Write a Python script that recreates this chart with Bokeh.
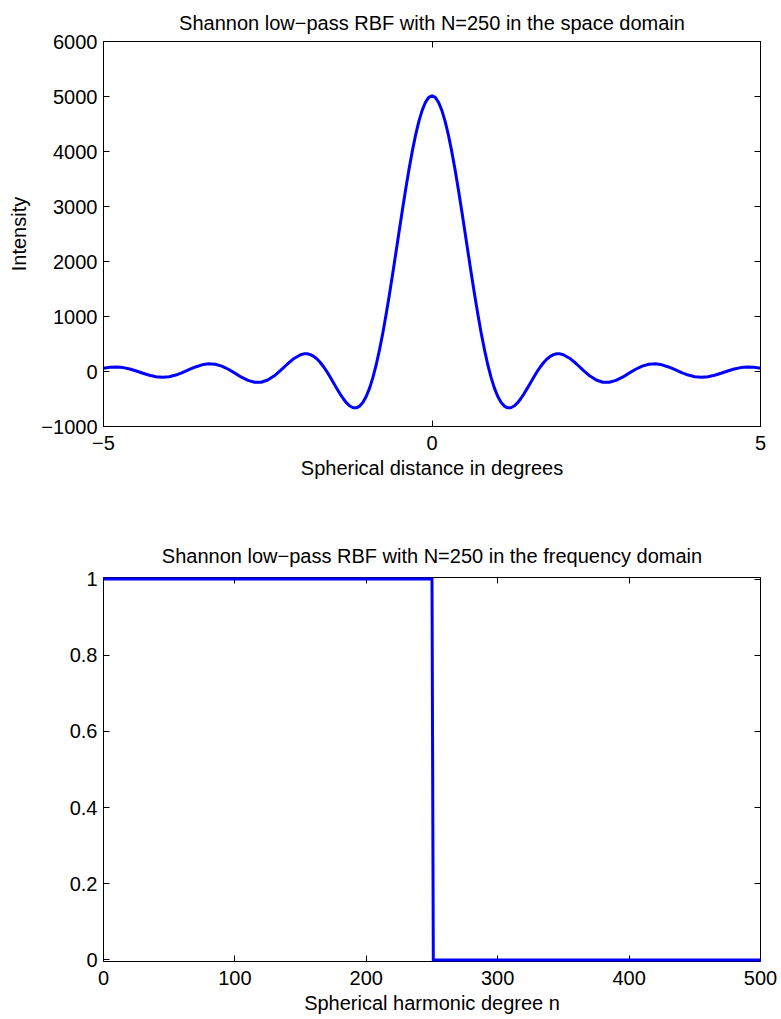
from bokeh.plotting import figure
from bokeh.models import Range1d, LinearAxis, FixedTicker, CustomJSTickFormatter
from bokeh.layouts import column
from bokeh.embed import file_html
from bokeh.resources import INLINE

# ---------------- data ----------------
# space domain: spherical distance (degrees) vs intensity
angle_deg = [
    -5.0, -4.9, -4.8, -4.7, -4.6, -4.5, -4.4, -4.3, -4.2, -4.1,
    -4.0, -3.9, -3.8, -3.7, -3.6, -3.5, -3.4, -3.3, -3.2, -3.1,
    -3.0, -2.9, -2.8, -2.7, -2.6, -2.5, -2.4, -2.3, -2.2, -2.1,
    -2.0, -1.95, -1.9, -1.85, -1.8, -1.75, -1.7, -1.65, -1.6, -1.55,
    -1.5, -1.45, -1.4, -1.35, -1.3, -1.25, -1.2, -1.15, -1.1, -1.05,
    -1.0, -0.95, -0.9, -0.85, -0.8, -0.75, -0.7, -0.65, -0.6, -0.55,
    -0.5, -0.45, -0.4, -0.35, -0.3, -0.25, -0.2, -0.15, -0.1, -0.05,
    0.0,
    0.05, 0.1, 0.15, 0.2, 0.25, 0.3, 0.35, 0.4, 0.45, 0.5,
    0.55, 0.6, 0.65, 0.7, 0.75, 0.8, 0.85, 0.9, 0.95, 1.0,
    1.05, 1.1, 1.15, 1.2, 1.25, 1.3, 1.35, 1.4, 1.45, 1.5,
    1.55, 1.6, 1.65, 1.7, 1.75, 1.8, 1.85, 1.9, 1.95, 2.0,
    2.1, 2.2, 2.3, 2.4, 2.5, 2.6, 2.7, 2.8, 2.9, 3.0,
    3.1, 3.2, 3.3, 3.4, 3.5, 3.6, 3.7, 3.8, 3.9, 4.0,
    4.1, 4.2, 4.3, 4.4, 4.5, 4.6, 4.7, 4.8, 4.9, 5.0,
]
intensity = [
    59, 77, 82, 71, 45, 9, -32, -69, -95, -105,
    -95, -65, -21, 32, 82, 121, 139, 132, 98, 41,
    -30, -103, -162, -196, -195, -155, -78, 24, 136, 237,
    305, 321, 322, 307, 276, 228, 164, 87, -3, -101,
    -203, -307, -406, -496, -572, -628, -659, -660, -629, -559,
    -451, -302, -112, 119, 388, 692, 1026, 1386, 1765, 2156,
    2551, 2942, 3320, 3677, 4006, 4298, 4547, 4747, 4894, 4983,
    5013,
    4983, 4894, 4747, 4547, 4298, 4006, 3677, 3320, 2942, 2551,
    2156, 1765, 1386, 1026, 692, 388, 119, -112, -302, -451,
    -559, -629, -660, -659, -628, -572, -496, -406, -307, -203,
    -101, -3, 87, 164, 228, 276, 307, 322, 321, 305,
    237, 136, 24, -78, -155, -195, -196, -162, -103, -30,
    41, 98, 132, 139, 121, 82, 32, -21, -65, -95,
    -105, -95, -69, -32, 9, 45, 71, 82, 77, 59,
]
space_xticks = [-5, 0, 5]
space_yticks = [-1000, 0, 1000, 2000, 3000, 4000, 5000, 6000]

# frequency domain: spherical harmonic degree vs gain (step at N=250)
degree_n = [0, 250, 251, 500]
gain = [1, 1, 0, 0]
freq_xticks = [0, 100, 200, 300, 400, 500]
freq_yticks = [0, 0.2, 0.4, 0.6, 0.8, 1]

title_space = "Shannon low\u2212pass RBF with N=250 in the space domain"
title_freq = "Shannon low\u2212pass RBF with N=250 in the frequency domain"
xlabel_space = "Spherical distance in degrees"
ylabel_space = "Intensity"
xlabel_freq = "Spherical harmonic degree n"

# ---------------- style ----------------
FONT = "Liberation Sans"
FS = "20px"
BLUE = "#0000ff"

FMT_CODE = "return String(tick).replace('-', '\\u2212');"


def style_axis(ax, ticks, labels=True, standoff=7):
    ax.ticker = FixedTicker(ticks=ticks)
    ax.axis_line_color = "black"
    ax.axis_line_width = 1
    ax.major_tick_line_color = "black"
    ax.major_tick_line_width = 1
    ax.major_tick_in = 6
    ax.major_tick_out = 0
    ax.minor_tick_line_color = None
    if labels:
        ax.formatter = CustomJSTickFormatter(code=FMT_CODE)
        ax.major_label_text_font = FONT
        ax.major_label_text_color = "black"
        ax.major_label_text_font_size = FS
        ax.major_label_standoff = standoff
    else:
        ax.major_label_text_color = None
        ax.major_label_text_font_size = "1px"
        ax.major_label_standoff = 0
    ax.axis_label_text_font = FONT
    ax.axis_label_text_font_size = FS
    ax.axis_label_text_font_style = "normal"
    ax.axis_label_text_color = "black"


def make_fig(title, xr, yr, xticks, yticks, xlabel, ylabel, fh, btop, bbottom, tstand):
    p = figure(
        frame_width=657, frame_height=fh,
        min_border_left=103, min_border_right=21,
        min_border_top=btop, min_border_bottom=bbottom,
        x_range=xr, y_range=yr,
        output_backend="svg", toolbar_location=None,
        background_fill_color="white", border_fill_color="white",
    )
    p.outline_line_color = None
    p.grid.visible = False
    p.title.text = title
    p.title.text_font = FONT
    p.title.text_font_size = FS
    p.title.text_font_style = "normal"
    p.title.text_color = "black"
    p.title.align = "center"
    p.title.standoff = tstand

    style_axis(p.below[0], xticks, True, 9)
    style_axis(p.left[0], yticks, True, 6)
    p.below[0].axis_label = xlabel
    p.below[0].axis_label_standoff = 4
    if ylabel:
        p.left[0].axis_label = ylabel
        p.left[0].axis_label_standoff = 8

    top_ax = LinearAxis()
    right_ax = LinearAxis()
    p.add_layout(top_ax, "above")
    p.add_layout(right_ax, "right")
    style_axis(top_ax, xticks, False)
    style_axis(right_ax, yticks, False)
    return p


p1 = make_fig(title_space, Range1d(-5, 5), Range1d(-1000, 6000),
              space_xticks, space_yticks, xlabel_space, ylabel_space,
              385, 41, 84, 15)
r1 = p1.line(angle_deg, intensity, line_color=BLUE, line_width=3, line_join="round")

p2 = make_fig(title_freq, Range1d(0, 500), Range1d(-0.004, 1.004),
              freq_xticks, freq_yticks, xlabel_freq, None,
              384, 67, 58, 22)
r2 = p2.line(degree_n, gain, line_color=BLUE, line_width=3, line_join="miter")
r2.level = "overlay"

layout = column(p1, p2, spacing=0)

open("out.html", "w").write(file_html(layout, INLINE))
